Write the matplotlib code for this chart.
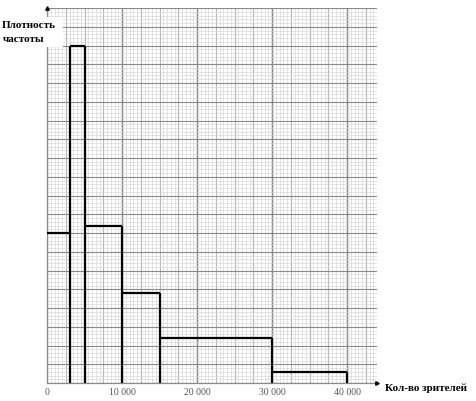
import numpy as np
import matplotlib
matplotlib.use("Agg")
import matplotlib.pyplot as plt
from matplotlib.patches import Rectangle
from matplotlib.ticker import MultipleLocator, FuncFormatter

# data
edges = [0, 3000, 5000, 10000, 15000, 30000, 40000]
heights = [8, 18, 8.4, 4.8, 2.4, 0.6]
xticks = [0, 10000, 20000, 30000, 40000]
xlabel = "Кол-во зрителей"
ylabel_lines = ["Плотность", "частоты"]

W, H = 476, 401
fig = plt.figure(figsize=(W / 100, H / 100), dpi=100)
ax_l, ax_r, ax_b, ax_t = 47, 377, 383, 8
ax = fig.add_axes([ax_l / W, 1 - ax_b / H, (ax_r - ax_l) / W, (ax_b - ax_t) / H])
ax.set_xlim(0, 44000)
ax.set_ylim(0, 20)

# graph-paper grid
ax.xaxis.set_minor_locator(MultipleLocator(500))
ax.yaxis.set_minor_locator(MultipleLocator(0.2))
ax.xaxis.set_major_locator(MultipleLocator(2500))
ax.yaxis.set_major_locator(MultipleLocator(1))
ax.grid(which="minor", color="#d4d4d4", lw=0.45)
ax.grid(which="major", color="#8a8a8a", lw=0.8)
ax.set_axisbelow(True)
for xv in xticks[1:]:
    ax.axvline(xv, color="#6a6a6a", lw=0.9, zorder=0.5)

ax.tick_params(which="both", length=0)
ax.set_yticklabels([])
ax.set_xticks(xticks)
ax.xaxis.set_major_formatter(FuncFormatter(lambda v, p: f"{int(v):,}".replace(",", " ")))
ax.tick_params(axis="x", labelsize=7, labelcolor="#555555", pad=3.5)
for lab in ax.get_xticklabels():
    lab.set_family("Liberation Serif")
# keep grid at 2500 steps even though ticks are only every 10000
for xv in np.arange(0, 44001, 2500):
    ax.axvline(xv, color="#8a8a8a", lw=0.8, zorder=0.4)

for s in ["top", "right"]:
    ax.spines[s].set_visible(False)
for s in ["left", "bottom"]:
    ax.spines[s].set_color("#8a8a8a")
    ax.spines[s].set_linewidth(0.9)

# histogram outline
e = np.array(edges, dtype=float)
h = np.array(heights, dtype=float)
ax.hlines(h, e[:-1], e[1:], color="black", lw=1.6, zorder=3)
vh = np.maximum(h, np.append(h[1:], 0))
ax.vlines(e[1:], 0, vh, color="black", lw=1.6, zorder=3)

# axis arrows
ax.plot([0], [1], marker="^", color="black", ms=2.5, transform=ax.transAxes, clip_on=False, zorder=4)
ax.plot([1], [0], marker=">", color="black", ms=2.5, transform=ax.transAxes, clip_on=False, zorder=4)

# labels
fig.add_artist(Rectangle((0, 1 - 47 / H), 63 / W, 30 / H, transform=fig.transFigure,
                         facecolor="white", edgecolor="none", zorder=5))
fig.text(2 / W, 1 - 25 / H, ylabel_lines[0], family="Liberation Serif", weight="bold",
         fontsize=8, va="center", ha="left", zorder=6)
fig.text(3 / W, 1 - 39 / H, ylabel_lines[1], family="Liberation Serif", weight="bold",
         fontsize=8, va="center", ha="left", zorder=6)
fig.text(385 / W, 1 - 388 / H, xlabel, family="Liberation Serif", weight="bold",
         fontsize=8, va="center", ha="left")

fig.savefig("out.png", dpi=100)
